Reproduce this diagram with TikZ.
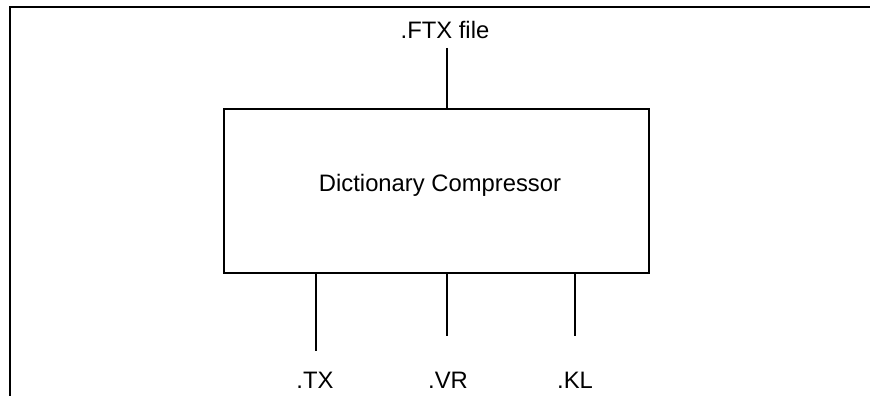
\documentclass[tikz,border=0pt]{standalone}
\usepackage{fontspec}
\setmainfont{Liberation Sans}
\begin{document}
\begin{tikzpicture}[x=1pt,y=-1pt,
  wire/.style={line width=2pt},
  lbl/.style={anchor=base,inner sep=0pt,font=\fontsize{23.8}{28}\selectfont},
  boxstyle/.style={draw,line width=2pt,minimum width=425pt,minimum height=164pt,inner sep=0pt}]
\useasboundingbox (0,0) rectangle (870,396);
% frame
\coordinate (fa) at (10,396);
\coordinate (fb) at (10,7.5);
\coordinate (fc) at (870,7.5);
\draw[line width=2pt] (fa) -- (fb) -- (fc);
% box
\node[boxstyle] (box) at (436.5,191) {};
\node[lbl] (title) at (440,191.5) {Dictionary Compressor};
% top input
\node[lbl] (ftx) at (445,39) {.FTX file};
\coordinate (t0) at (447,48);
\draw[wire] (t0) -- (t0 |- box.north);
% outputs
\coordinate (b1) at (316,351);
\coordinate (b2) at (447,336);
\coordinate (b3) at (575,336);
\draw[wire] (b1 |- box.south) -- (b1);
\draw[wire] (b2 |- box.south) -- (b2);
\draw[wire] (b3 |- box.south) -- (b3);
\node[lbl] (tx) at (315,388) {.TX};
\node[lbl] (vr) at (448,388) {.VR};
\node[lbl] (kl) at (575,388) {.KL};
\end{tikzpicture}
\end{document}
